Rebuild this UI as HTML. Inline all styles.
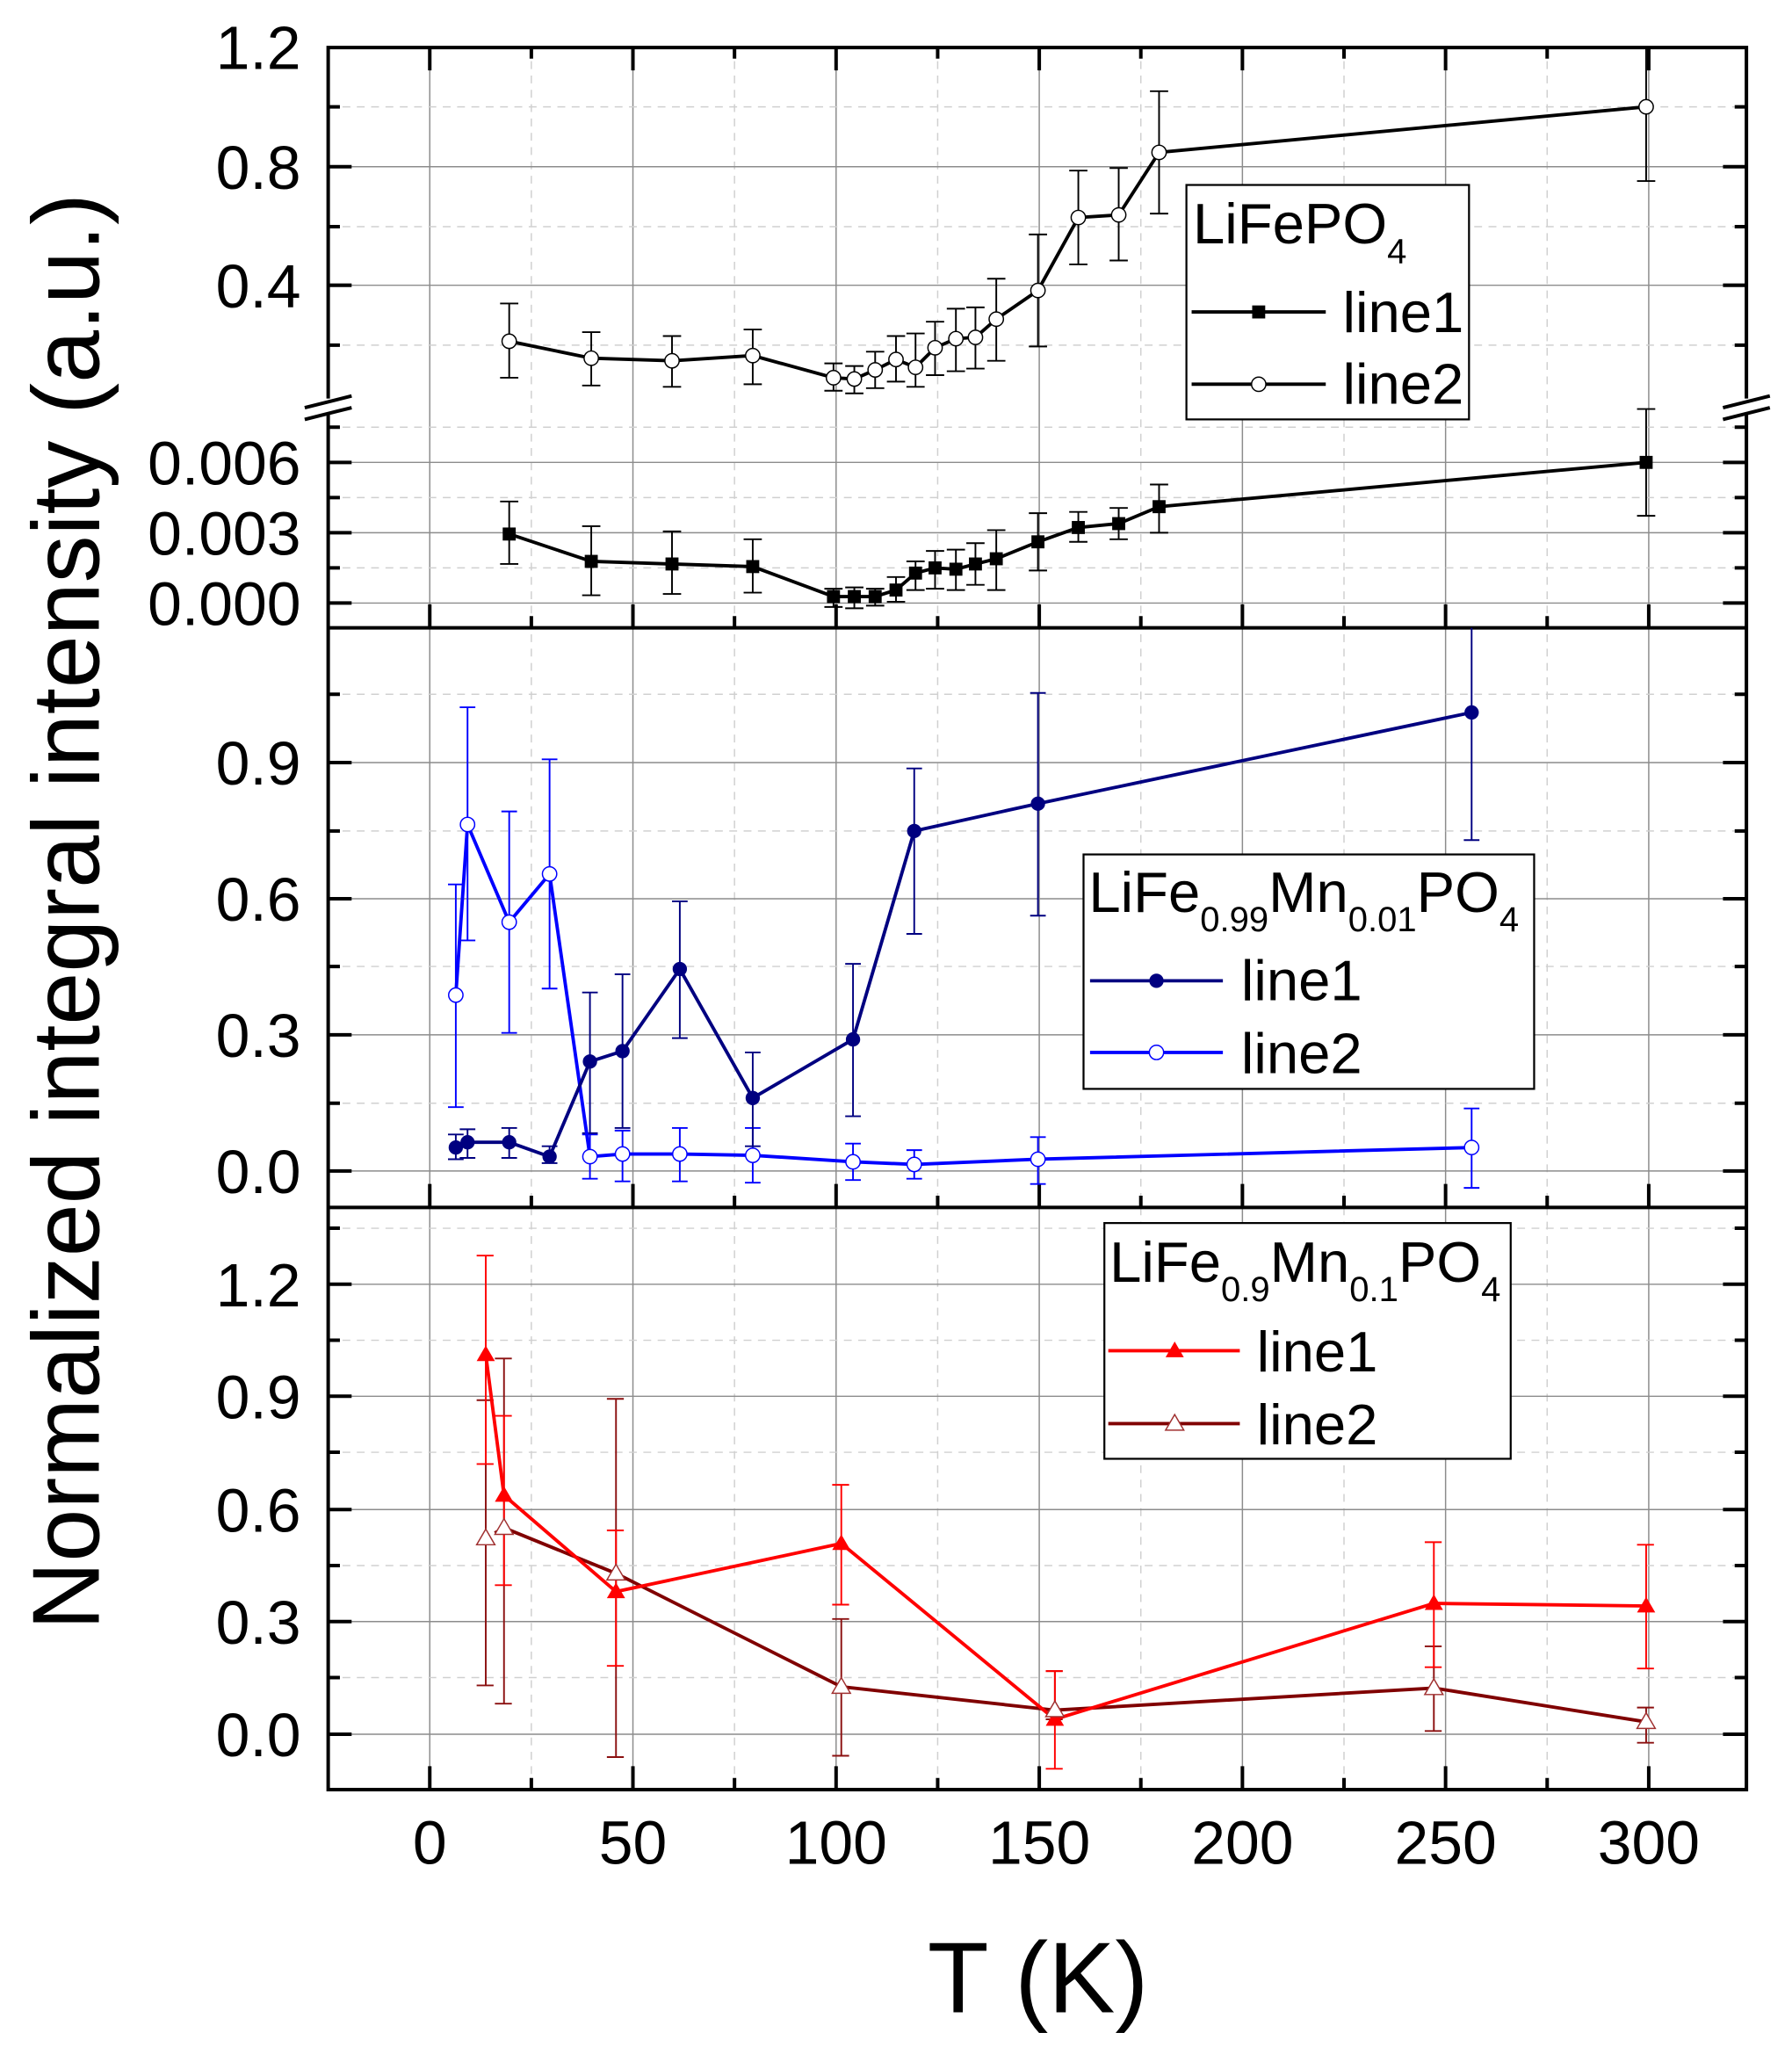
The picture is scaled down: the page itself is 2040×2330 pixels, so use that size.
<!DOCTYPE html>
<html><head><meta charset="utf-8"><style>
html,body{margin:0;padding:0;background:#fff}
svg{display:block}
text{font-family:"Liberation Sans",Arial,sans-serif;fill:#000}
</style></head><body>
<svg width="2040" height="2330" viewBox="0 0 1376 1571.6" xmlns="http://www.w3.org/2000/svg">
<defs>
<clipPath id="c1"><rect x="252" y="36" width="1089" height="446"/></clipPath>
<clipPath id="c2"><rect x="252" y="482" width="1089" height="445"/></clipPath>
<clipPath id="c3"><rect x="252" y="927" width="1089" height="447"/></clipPath>
</defs>
<rect width="1376" height="1572" fill="#fff"/>
<!-- vertical grid -->
<g stroke="#8c8c8c" stroke-width="1">
<path d="M330 36V1374M486 36V1374M642 36V1374M798 36V1374M954 36V1374M1110 36V1374M1266 36V1374"/>
</g>
<g stroke="#d0d0d0" stroke-width="1" stroke-dasharray="6 5">
<path d="M408 36V1374M564 36V1374M720 36V1374M876 36V1374M1032 36V1374M1188 36V1374"/>
<!-- minor horizontal -->
<path d="M252 82H1341M252 174H1341M252 265H1341M252 436H1341M252 382H1341M252 328H1341"/>
<path d="M252 847H1341M252 742H1341M252 638H1341M252 533H1341"/>
<path d="M252 1288H1341M252 1202H1341M252 1115H1341M252 1029H1341M252 943H1341"/>
</g>
<g stroke="#8c8c8c" stroke-width="1">
<path d="M252 128H1341M252 219H1341M252 355H1341M252 409H1341M252 463H1341"/>
<path d="M252 899H1341M252 794.5H1341M252 690H1341M252 585.5H1341"/>
<path d="M252 1331.5H1341M252 1245H1341M252 1159H1341M252 1072H1341M252 986H1341"/>
</g>
<!-- axes frames -->
<g stroke="#000" stroke-width="2.7" fill="none">
<rect x="252" y="36.5" width="1089" height="1337.5"/>
<path d="M252 482H1341M252 927H1341"/>
<!-- x ticks -->
<path d="M330 36v18M486 36v18M642 36v18M798 36v18M954 36v18M1110 36v18M1266 36v18M408 36v9M564 36v9M720 36v9M876 36v9M1032 36v9M1188 36v9"/>
<path d="M330 482v-18M486 482v-18M642 482v-18M798 482v-18M954 482v-18M1110 482v-18M1266 482v-18M408 482v-9M564 482v-9M720 482v-9M876 482v-9M1032 482v-9M1188 482v-9"/>
<path d="M330 927v-18M486 927v-18M642 927v-18M798 927v-18M954 927v-18M1110 927v-18M1266 927v-18M408 927v-9M564 927v-9M720 927v-9M876 927v-9M1032 927v-9M1188 927v-9"/>
<path d="M330 1374v-18M486 1374v-18M642 1374v-18M798 1374v-18M954 1374v-18M1110 1374v-18M1266 1374v-18M408 1374v-9M564 1374v-9M720 1374v-9M876 1374v-9M1032 1374v-9M1188 1374v-9"/>
<!-- y ticks left -->
<path d="M252 128h18M252 219h18M252 355h18M252 409h18M252 463h18M252 82h9M252 174h9M252 265h9M252 436h9M252 382h9M252 328h9"/>
<path d="M252 899h18M252 794.5h18M252 690h18M252 585.5h18M252 847h9M252 742h9M252 638h9M252 533h9"/>
<path d="M252 1331.5h18M252 1245h18M252 1159h18M252 1072h18M252 986h18M252 1288h9M252 1202h9M252 1115h9M252 1029h9M252 943h9"/>
<!-- y ticks right -->
<path d="M1341 128h-18M1341 219h-18M1341 355h-18M1341 409h-18M1341 463h-18M1341 82h-9M1341 174h-9M1341 265h-9M1341 436h-9M1341 382h-9M1341 328h-9"/>
<path d="M1341 899h-18M1341 794.5h-18M1341 690h-18M1341 585.5h-18M1341 847h-9M1341 742h-9M1341 638h-9M1341 533h-9"/>
<path d="M1341 1331.5h-18M1341 1245h-18M1341 1159h-18M1341 1072h-18M1341 986h-18M1341 1288h-9M1341 1202h-9M1341 1115h-9M1341 1029h-9M1341 943h-9"/>
</g>
<!-- axis break -->
<rect x="248" y="306" width="8" height="12" fill="#fff"/>
<rect x="1337" y="306" width="8" height="12" fill="#fff"/>
<g stroke="#000" stroke-width="2.7">
<path d="M234 313L270 304M234 322L270 313"/>
<path d="M1323 313L1359 304M1323 322L1359 313"/>
</g>
<!-- y tick labels -->
<g font-size="47" text-anchor="end">
<text x="231" y="53">1.2</text><text x="231" y="145">0.8</text><text x="231" y="236">0.4</text>
<text x="231" y="372">0.006</text><text x="231" y="426">0.003</text><text x="231" y="480">0.000</text>
<text x="231" y="916">0.0</text><text x="231" y="811.5">0.3</text><text x="231" y="707">0.6</text><text x="231" y="602.5">0.9</text>
<text x="231" y="1348.5">0.0</text><text x="231" y="1262">0.3</text><text x="231" y="1176">0.6</text><text x="231" y="1089">0.9</text><text x="231" y="1003">1.2</text>
</g>
<g font-size="47" text-anchor="middle">
<text x="330" y="1431">0</text><text x="486" y="1431">50</text><text x="642" y="1431">100</text><text x="798" y="1431">150</text><text x="954" y="1431">200</text><text x="1110" y="1431">250</text><text x="1266" y="1431">300</text>
</g>
<text x="797" y="1545" font-size="77" text-anchor="middle">T (K)</text>
<text transform="translate(76,700) rotate(-90)" font-size="73.5" text-anchor="middle" textLength="1103" lengthAdjust="spacingAndGlyphs">Normalized integral intensity (a.u.)</text>

<!-- Panel 1 -->
<g clip-path="url(#c1)">
<g stroke="#000" stroke-width="1.3" fill="none">
<path d="M391 385V433M384 385h14M384 433h14M454 404V457M447 404h14M447 457h14M516 408V456M509 408h14M509 456h14M578 414V455M571 414h14M571 455h14M640 452V466M633 452h14M633 466h14M656 451V467M649 451h14M649 467h14M672 452V465M665 452h14M665 465h14M688 443V462M681 443h14M681 462h14M703 431V453M696 431h14M696 453h14M718 423V452M711 423h14M711 452h14M734 422V453M727 422h14M727 453h14M749 417V449M742 417h14M742 449h14M765 407V453M758 407h14M758 453h14M797 394V438M790 394h14M790 438h14M828 393V416M821 393h14M821 416h14M859 390V414M852 390h14M852 414h14M890 372V409M883 372h14M883 409h14M1264 314V396M1257 314h14M1257 396h14"/>
<path d="M391 233V290M384 233h14M384 290h14M454 255V296M447 255h14M447 296h14M516 258V297M509 258h14M509 297h14M578 253V295M571 253h14M571 295h14M640 279V300M633 279h14M633 300h14M656 281V302M649 281h14M649 302h14M672 270V298M665 270h14M665 298h14M688 258V293M681 258h14M681 293h14M703 256V297M696 256h14M696 297h14M718 247V288M711 247h14M711 288h14M734 237V285M727 237h14M727 285h14M749 236V283M742 236h14M742 283h14M765 214V277M758 214h14M758 277h14M797 180V266M790 180h14M790 266h14M828 131V203M821 131h14M821 203h14M859 129V200M852 129h14M852 200h14M890 70V164M883 70h14M883 164h14M1264 25V139M1257 25h14M1257 139h14"/>
</g>
<polyline fill="none" stroke="#000" stroke-width="2.6" points="391,410 454,431 516,433 578,435 640,458 656,458 672,458 688,453 703,440 718,436 734,437 749,433 765,429 797,416 828,405 859,402 890,389 1264,355"/>
<polyline fill="none" stroke="#000" stroke-width="2.6" points="391,262 454,275 516,277 578,273 640,290 656,291 672,284 688,276 703,282 718,267 734,260 749,259 765,245 797,223 828,167 859,165 890,117 1264,82"/>
<g fill="#000">
<rect x="386" y="405" width="10" height="10"/><rect x="449" y="426" width="10" height="10"/><rect x="511" y="428" width="10" height="10"/><rect x="573" y="430" width="10" height="10"/><rect x="635" y="453" width="10" height="10"/><rect x="651" y="453" width="10" height="10"/><rect x="667" y="453" width="10" height="10"/><rect x="683" y="448" width="10" height="10"/><rect x="698" y="435" width="10" height="10"/><rect x="713" y="431" width="10" height="10"/><rect x="729" y="432" width="10" height="10"/><rect x="744" y="428" width="10" height="10"/><rect x="760" y="424" width="10" height="10"/><rect x="792" y="411" width="10" height="10"/><rect x="823" y="400" width="10" height="10"/><rect x="854" y="397" width="10" height="10"/><rect x="885" y="384" width="10" height="10"/><rect x="1259" y="350" width="10" height="10"/>
</g>
<g fill="#fff" stroke="#000" stroke-width="1">
<circle cx="391" cy="262" r="5.5"/><circle cx="454" cy="275" r="5.5"/><circle cx="516" cy="277" r="5.5"/><circle cx="578" cy="273" r="5.5"/><circle cx="640" cy="290" r="5.5"/><circle cx="656" cy="291" r="5.5"/><circle cx="672" cy="284" r="5.5"/><circle cx="688" cy="276" r="5.5"/><circle cx="703" cy="282" r="5.5"/><circle cx="718" cy="267" r="5.5"/><circle cx="734" cy="260" r="5.5"/><circle cx="749" cy="259" r="5.5"/><circle cx="765" cy="245" r="5.5"/><circle cx="797" cy="223" r="5.5"/><circle cx="828" cy="167" r="5.5"/><circle cx="859" cy="165" r="5.5"/><circle cx="890" cy="117" r="5.5"/><circle cx="1264" cy="82" r="5.5"/>
</g>
</g>

<!-- Panel 2 -->
<g clip-path="url(#c2)">
<g stroke="#0000ff" stroke-width="1.3" fill="none">
<path d="M350 679V850M344 679h12M344 850h12M359 543V722M353 543h12M353 722h12M391 623V793M385 623h12M385 793h12M422 583V759M416 583h12M416 759h12M453 871V905M447 871h12M447 905h12M478 868V907M472 868h12M472 907h12M522 866V907M516 866h12M516 907h12M578 866V908M572 866h12M572 908h12M655 878V906M649 878h12M649 906h12M702 883V905M696 883h12M696 905h12M797 873V909M791 873h12M791 909h12M1130 851V912M1124 851h12M1124 912h12"/>
</g>
<g stroke="#000080" stroke-width="1.3" fill="none">
<path d="M350 871V890M344 871h12M344 890h12M359 867V889M353 867h12M353 889h12M391 866V889M385 866h12M385 889h12M422 880V893M416 880h12M416 893h12M453 762V870M447 762h12M447 870h12M478 748V866M472 748h12M472 866h12M522 692V797M516 692h12M516 797h12M578 808V880M572 808h12M572 880h12M655 740V857M649 740h12M649 857h12M702 590V717M696 590h12M696 717h12M797 532V703M791 532h12M791 703h12M1130 476V645M1124 645h12"/>
</g>
<polyline fill="none" stroke="#0000ff" stroke-width="2.6" points="350,764 359,633 391,708 422,671 453,888 478,886 522,886 578,887 655,892 702,894 797,890 1130,881"/>
<polyline fill="none" stroke="#000080" stroke-width="2.6" points="350,881 359,877 391,877 422,888 453,815 478,807 522,744 578,843 655,798 702,638 797,617 1130,547"/>
<g fill="#000080">
<circle cx="350" cy="881" r="5.5"/><circle cx="359" cy="877" r="5.5"/><circle cx="391" cy="877" r="5.5"/><circle cx="422" cy="888" r="5.5"/><circle cx="453" cy="815" r="5.5"/><circle cx="478" cy="807" r="5.5"/><circle cx="522" cy="744" r="5.5"/><circle cx="578" cy="843" r="5.5"/><circle cx="655" cy="798" r="5.5"/><circle cx="702" cy="638" r="5.5"/><circle cx="797" cy="617" r="5.5"/><circle cx="1130" cy="547" r="5.5"/>
</g>
<g fill="#fff" stroke="#0000ff" stroke-width="1">
<circle cx="350" cy="764" r="5.5"/><circle cx="359" cy="633" r="5.5"/><circle cx="391" cy="708" r="5.5"/><circle cx="422" cy="671" r="5.5"/><circle cx="453" cy="888" r="5.5"/><circle cx="478" cy="886" r="5.5"/><circle cx="522" cy="886" r="5.5"/><circle cx="578" cy="887" r="5.5"/><circle cx="655" cy="892" r="5.5"/><circle cx="702" cy="894" r="5.5"/><circle cx="797" cy="890" r="5.5"/><circle cx="1130" cy="881" r="5.5"/>
</g>
</g>

<!-- Panel 3 -->
<g clip-path="url(#c3)">
<g stroke="#8b1010" stroke-width="1.3" fill="none">
<path d="M373 1075V1294M366 1075h13M366 1294h13M387 1043V1308M380 1043h13M380 1308h13M473 1074V1349M466 1074h13M466 1349h13M646 1243V1348M639 1243h13M639 1348h13M810 1283V1320M803 1283h13M803 1320h13M1101 1264V1329M1094 1264h13M1094 1329h13M1264 1311V1338M1257 1311h13M1257 1338h13"/>
</g>
<g stroke="#ff0000" stroke-width="1.3" fill="none">
<path d="M373 964V1124M366 964h13M366 1124h13M387 1087V1217M380 1087h13M380 1217h13M473 1175V1279M466 1175h13M466 1279h13M646 1140V1232M639 1140h13M639 1232h13M810 1283V1358M803 1283h13M803 1358h13M1101 1184V1280M1094 1184h13M1094 1280h13M1264 1186V1281M1257 1186h13M1257 1281h13"/>
</g>
<polyline fill="none" stroke="#800000" stroke-width="2.6" points="380,1177 387,1173 473,1208 646,1295 810,1313 1101,1296 1264,1322"/>
<polyline fill="none" stroke="#ff0000" stroke-width="2.6" points="373,1040 387,1148 473,1222 646,1185 810,1320 1101,1231 1264,1233"/>
<g fill="#ff0000">
<polygon points="366,1045 380,1045 373,1033"/><polygon points="380,1153 394,1153 387,1141"/><polygon points="466,1227 480,1227 473,1215"/><polygon points="639,1190 653,1190 646,1178"/><polygon points="803,1325 817,1325 810,1313"/><polygon points="1094,1236 1108,1236 1101,1224"/><polygon points="1257,1238 1271,1238 1264,1226"/>
</g>
<g fill="#fff" stroke="#a03030" stroke-width="1">
<polygon points="366,1186 380,1186 373,1174"/><polygon points="380,1178 394,1178 387,1166"/><polygon points="466,1213 480,1213 473,1201"/><polygon points="639,1300 653,1300 646,1288"/><polygon points="803,1318 817,1318 810,1306"/><polygon points="1094,1301 1108,1301 1101,1289"/><polygon points="1257,1327 1271,1327 1264,1315"/>
</g>
</g>

<!-- Legend 1 -->
<rect x="911" y="142" width="217" height="180" fill="#fff" stroke="#000" stroke-width="1.5"/>
<text x="916" y="187" font-size="44">LiFePO<tspan font-size="27" dy="15">4</tspan></text>
<path d="M915 239.5H1018M915 295H1018" stroke="#000" stroke-width="2.6"/>
<rect x="961.5" y="234.5" width="10" height="10" fill="#000"/>
<circle cx="966.5" cy="295" r="5.5" fill="#fff" stroke="#000" stroke-width="1"/>
<text x="1031" y="255" font-size="44">line1</text>
<text x="1031" y="310" font-size="44">line2</text>

<!-- Legend 2 -->
<rect x="832" y="656" width="346" height="180" fill="#fff" stroke="#000" stroke-width="1.5"/>
<text x="836" y="700" font-size="44">LiFe<tspan font-size="27" dy="15">0.99</tspan><tspan dy="-15">Mn</tspan><tspan font-size="27" dy="15">0.01</tspan><tspan dy="-15">PO</tspan><tspan font-size="27" dy="15">4</tspan></text>
<path d="M837 753H939" stroke="#000080" stroke-width="2.6"/>
<path d="M837 808H939" stroke="#0000ff" stroke-width="2.6"/>
<circle cx="888" cy="753" r="5.5" fill="#000080"/>
<circle cx="888" cy="808" r="5.5" fill="#fff" stroke="#0000ff" stroke-width="1"/>
<text x="953" y="768" font-size="44">line1</text>
<text x="953" y="824" font-size="44">line2</text>

<!-- Legend 3 -->
<rect x="848" y="939" width="312" height="181" fill="#fff" stroke="#000" stroke-width="1.5"/>
<text x="852" y="984" font-size="44">LiFe<tspan font-size="27" dy="15">0.9</tspan><tspan dy="-15">Mn</tspan><tspan font-size="27" dy="15">0.1</tspan><tspan dy="-15">PO</tspan><tspan font-size="27" dy="15">4</tspan></text>
<path d="M851 1037H952" stroke="#ff0000" stroke-width="2.6"/>
<path d="M851 1093H952" stroke="#800000" stroke-width="2.6"/>
<polygon points="895,1042 909,1042 902,1030" fill="#ff0000"/>
<polygon points="895,1098 909,1098 902,1086" fill="#fff" stroke="#a03030" stroke-width="1"/>
<text x="965" y="1053" font-size="44">line1</text>
<text x="965" y="1109" font-size="44">line2</text>
</svg>
</body></html>
